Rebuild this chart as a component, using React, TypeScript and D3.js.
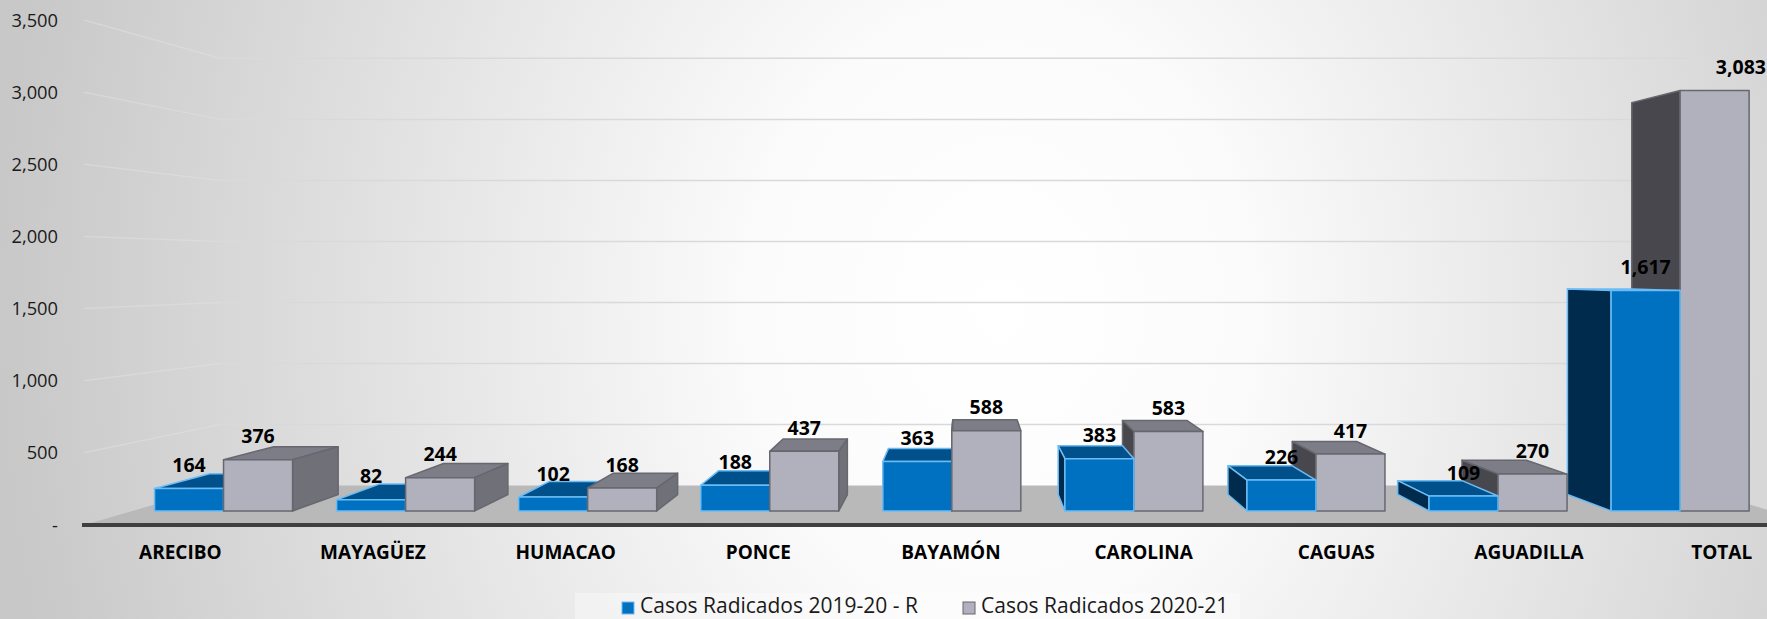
import * as d3 from "d3";
import { useEffect, useRef } from "react";

const categories = [
  "ARECIBO",
  "MAYAGÜEZ",
  "HUMACAO",
  "PONCE",
  "BAYAMÓN",
  "CAROLINA",
  "CAGUAS",
  "AGUADILLA",
  "TOTAL",
];
const radicados1920 = [164, 82, 102, 188, 363, 383, 226, 109, 1617];
const radicados2021 = [376, 244, 168, 437, 588, 583, 417, 270, 3083];
const seriesNames = ["Casos Radicados 2019-20 - R", "Casos Radicados 2020-21"];
const yTicks = [0, 500, 1000, 1500, 2000, 2500, 3000, 3500];

const palette = [
  { front: "#0070c0", top: "#00508c", left: "#002b4c", right: "#00508c", stroke: "#6bbcf5" },
  { front: "#b1b1bd", top: "#7d7d87", left: "#47474d", right: "#707078", stroke: "#67676f" },
];

type Pt = [number, number];

export default function App() {
  const ref = useRef<SVGSVGElement>(null);

  useEffect(() => {
    const width = 1767;
    const height = 619;
    const font = "'Open Sans', 'Noto Sans', sans-serif";

    const svg = d3.select(ref.current);
    svg.selectAll("*").remove();
    svg.attr("width", width).attr("height", height).attr("viewBox", [0, 0, width, height]);

    // fondo con degradado radial (alargado en vertical)
    const defs = svg.append("defs");
    const grad = defs
      .append("radialGradient")
      .attr("id", "bg")
      .attr("gradientUnits", "userSpaceOnUse")
      .attr("cx", 1000)
      .attr("cy", 310)
      .attr("r", 1000)
      .attr("gradientTransform", "translate(1000,310) scale(1,1.2) translate(-1000,-310)");
    grad.append("stop").attr("offset", 0).attr("stop-color", "#ffffff");
    grad.append("stop").attr("offset", 0.25).attr("stop-color", "#fbfbfb");
    grad.append("stop").attr("offset", 1).attr("stop-color", "#c8c8c8");
    svg.append("rect").attr("width", width).attr("height", height).attr("fill", "url(#bg)");

    // perspectiva: punto de fuga y profundidades relativas
    const horizonY = 269;
    const vanishX = 966;
    const depth = { front: 1, barFront: 0.945, barBack: 0.881, back: 0.846 };
    const proj = (x: number, y: number, s: number): Pt => [
      vanishX + (x - vanishX) * s,
      horizonY + (y - horizonY) * s,
    ];

    const x0 = d3
      .scaleBand()
      .domain(categories)
      .range([84, 1818])
      .paddingInner(0.242)
      .paddingOuter(0.121);
    const x1 = d3.scaleBand().domain(seriesNames).range([0, x0.bandwidth()]);
    const y = d3.scaleLinear().domain([0, 3500]).range([525, 20]);
    const fmt = d3.format(",");

    const [xMin, xMax] = [84, 1818];
    const line = (pts: Pt[]) => "M" + pts.map((p) => p.join(",")).join("L") + "Z";

    // piso
    svg
      .append("path")
      .attr(
        "d",
        line([
          proj(xMin, y(0), depth.front),
          proj(xMin, y(0), depth.back),
          proj(xMax, y(0), depth.back),
          proj(xMax, y(0), depth.front),
        ])
      )
      .attr("fill", "#b9b9b9");

    // líneas de cuadrícula (pared lateral y pared del fondo)
    const grid = svg.append("g").attr("fill", "none");
    yTicks
      .filter((t) => t > 0)
      .forEach((t) => {
        const a = proj(xMin, y(t), depth.front);
        const b = proj(xMin, y(t), depth.back);
        const c = proj(xMax, y(t), depth.back);
        grid
          .append("path")
          .attr("d", `M${a}L${b}`)
          .attr("stroke", "#e2e2e2")
          .attr("stroke-opacity", 0.5)
          .attr("stroke-width", 1.5);
        grid
          .append("path")
          .attr("d", `M${b}L${c}`)
          .attr("stroke", "#d9d9d9")
          .attr("stroke-width", 1.5);
      });

    // eje horizontal
    svg
      .append("line")
      .attr("x1", xMin - 2)
      .attr("x2", xMax)
      .attr("y1", y(0))
      .attr("y2", y(0))
      .attr("stroke", "#3f3f3f")
      .attr("stroke-width", 4);

    // etiquetas del eje vertical
    svg
      .append("g")
      .selectAll("text")
      .data(yTicks)
      .join("text")
      .attr("x", 58)
      .attr("y", (d) => y(d) + 6.5)
      .attr("text-anchor", "end")
      .style("font-family", font)
      .style("font-size", "18.3px")
      .attr("fill", "#1a1a1a")
      .text((d) => (d === 0 ? "-" : fmt(d)));

    // barras 3D
    const bars = categories.flatMap((c, i) =>
      [radicados1920[i], radicados2021[i]].map((v, si) => {
        const xl = (x0(c) as number) + (x1(seriesNames[si]) as number);
        const xr = xl + x1.bandwidth();
        return { c, si, v, xl, xr, mid: (xl + xr) / 2 };
      })
    );
    bars.sort((a, b) => Math.abs(b.mid - vanishX) - Math.abs(a.mid - vanishX));

    const barG = svg.append("g").attr("stroke-width", 1.5).attr("stroke-linejoin", "round");
    bars.forEach((d) => {
      const col = palette[d.si];
      const yt = y(d.v);
      const yb = y(0);
      const FLT = proj(d.xl, yt, depth.barFront);
      const FRT = proj(d.xr, yt, depth.barFront);
      const FRB = proj(d.xr, yb, depth.barFront);
      const FLB = proj(d.xl, yb, depth.barFront);
      const BLT = proj(d.xl, yt, depth.barBack);
      const BRT = proj(d.xr, yt, depth.barBack);
      const BRB = proj(d.xr, yb, depth.barBack);
      const BLB = proj(d.xl, yb, depth.barBack);
      const g = barG.append("g").attr("stroke", col.stroke);
      if (yt > horizonY) {
        g.append("path").attr("d", line([FLT, FRT, BRT, BLT])).attr("fill", col.top);
      }
      if (d.mid < vanishX) {
        g.append("path").attr("d", line([FRT, BRT, BRB, FRB])).attr("fill", col.right);
      } else {
        g.append("path").attr("d", line([FLT, BLT, BLB, FLB])).attr("fill", col.left);
      }
      g.append("path").attr("d", line([FLT, FRT, FRB, FLB])).attr("fill", col.front);
    });

    // etiquetas de datos (la última se ajusta al borde derecho)
    const isEdge = (d: { c: string; si: number }) =>
      d.c === categories[categories.length - 1] && d.si === 1;
    svg
      .append("g")
      .selectAll("text")
      .data(bars)
      .join("text")
      .attr("x", (d) => (isEdge(d) ? width - 1 : proj(d.mid, 0, depth.barFront)[0]))
      .attr("y", (d) => proj(d.mid, y(d.v), depth.barFront)[1] - 16.5)
      .attr("text-anchor", (d) => (isEdge(d) ? "end" : "middle"))
      .style("font-family", font)
      .style("font-size", "19.5px")
      .style("font-weight", "bold")
      .attr("fill", "#000")
      .text((d) => fmt(d.v));

    // etiquetas de categorías
    svg
      .append("g")
      .selectAll("text")
      .data(categories)
      .join("text")
      .attr("x", (d) => (x0(d) as number) + x0.bandwidth() / 2)
      .attr("y", 559)
      .attr("text-anchor", "middle")
      .style("font-family", font)
      .style("font-size", "19px")
      .style("font-weight", "bold")
      .attr("fill", "#000")
      .text((d) => d);

    // leyenda
    const legend = svg.append("g");
    legend
      .append("rect")
      .attr("x", 575)
      .attr("y", 593)
      .attr("width", 665)
      .attr("height", 30)
      .attr("fill", "#ffffff")
      .attr("opacity", 0.35);
    const legendX = [622, 963];
    seriesNames.forEach((name, i) => {
      legend
        .append("rect")
        .attr("x", legendX[i])
        .attr("y", 602)
        .attr("width", 12)
        .attr("height", 12)
        .attr("fill", palette[i].front)
        .attr("stroke", palette[i].stroke)
        .attr("stroke-width", 1);
      legend
        .append("text")
        .attr("x", legendX[i] + 18)
        .attr("y", 613)
        .style("font-family", font)
        .style("font-size", "21px")
        .attr("fill", "#1a1a1a")
        .text(name);
    });
  }, []);

  return (
    <svg
      ref={ref}
      style={{ position: "absolute", left: 0, top: 0, display: "block" }}
    />
  );
}
